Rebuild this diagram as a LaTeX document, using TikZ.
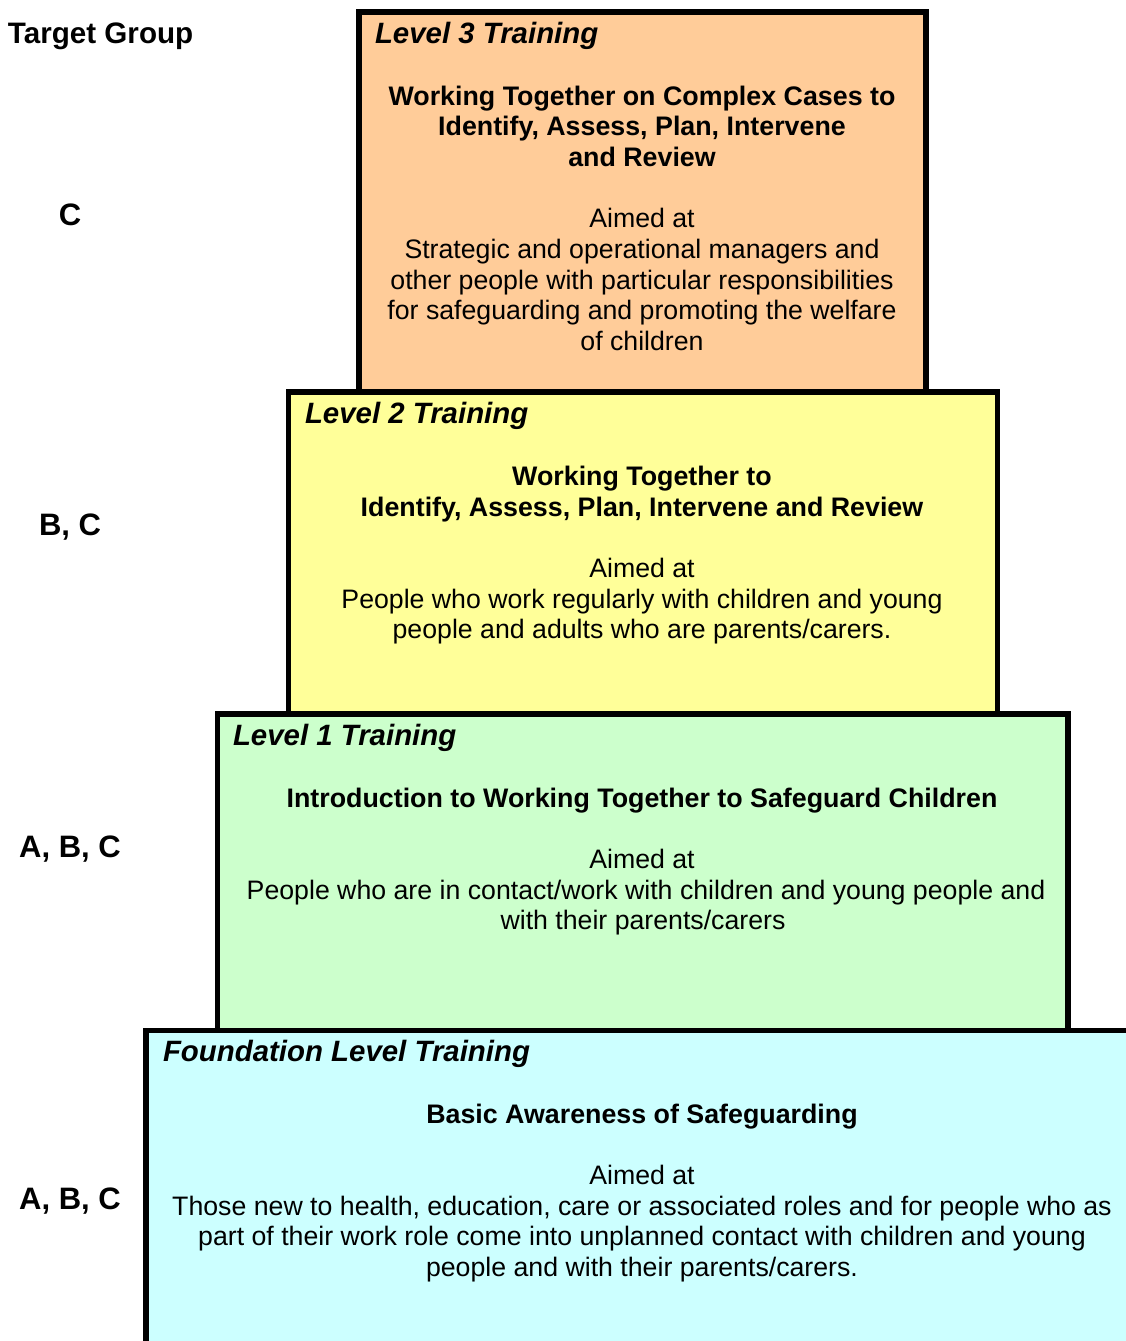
\documentclass[tikz,border=0pt]{standalone}
\usepackage{fontspec}
\setmainfont{Liberation Sans}
\definecolor{lthree}{HTML}{FFCC99}
\definecolor{ltwo}{HTML}{FFFF99}
\definecolor{lone}{HTML}{CCFFCC}
\definecolor{lfound}{HTML}{CCFFFF}
\begin{document}
\begin{tikzpicture}[x=1pt,y=-1pt,
  every node/.style={inner sep=0pt, outer sep=0pt, font=\fontsize{26.7}{30.5}\selectfont},
  box/.style={draw=black, line width=5.5pt, rectangle, anchor=north west},
  ttl/.style={anchor=base west, font=\fontsize{29.4}{33}\selectfont\bfseries\itshape},
  bld/.style={anchor=base, font=\fontsize{26.8}{30.5}\selectfont\bfseries},
  txt/.style={anchor=base},
  grp/.style={anchor=base, font=\fontsize{31}{34}\selectfont\bfseries}]
\useasboundingbox (0,0) rectangle (1126,1341);
\clip (0,0) rectangle (1126,1341);
% boxes
\node[box, fill=lthree, minimum width=567pt, minimum height=380pt] (L3) at (359,12) {};
\node[box, fill=ltwo, minimum width=709pt, minimum height=322pt] (L2) at (288.5,392) {};
\node[box, fill=lone, minimum width=850.5pt, minimum height=316.5pt] (L1) at (217.5,714) {};
\node[box, fill=lfound, minimum width=1100pt, minimum height=400pt] (F) at (146,1030.5) {};
% left labels
\node[anchor=base west, font=\fontsize{29.6}{33}\selectfont\bfseries] (tg) at (8,43) {Target Group};
\node[grp] (g3) at (70,225.5) {C};
\node[grp] (g2) at (70,535.5) {B, C};
\node[grp] (g1) at (70,857.5) {A, B, C};
\node[grp] (g0) at (70,1209.5) {A, B, C};
% level 3
\node[ttl] (t3) at (375,43) {Level 3 Training};
\node[bld] (b3a) at (642,105.5) {Working Together on Complex Cases to};
\node[bld] (b3b) at (642,135.5) {Identify, Assess, Plan, Intervene};
\node[bld] (b3c) at (642,166.5) {and Review};
\node[txt] (a3) at (642,227.5) {Aimed at};
\node[txt] (a3a) at (642,258.5) {Strategic and operational managers and};
\node[txt] (a3b) at (642,289.5) {other people with particular responsibilities};
\node[txt] (a3c) at (642,319.5) {for safeguarding and promoting the welfare};
\node[txt] (a3d) at (642,350.5) {of children};
% level 2
\node[ttl] (t2) at (305,423) {Level 2 Training};
\node[bld] (b2a) at (642,485.5) {Working Together to};
\node[bld] (b2b) at (642,516.5) {Identify, Assess, Plan, Intervene and Review};
\node[txt] (a2) at (642,577.5) {Aimed at};
\node[txt] (a2a) at (642,608.5) {People who work regularly with children and young};
\node[txt] (a2b) at (642,638.5) {people and adults who are parents/carers.};
% level 1
\node[ttl] (t1) at (233,745) {Level 1 Training};
\node[bld] (b1a) at (642,807.5) {Introduction to Working Together to Safeguard Children};
\node[txt] (a1) at (642,868.5) {Aimed at};
\node[txt] (a1a) at (646,899.5) {People who are in contact/work with children and young people and};
\node[txt] (a1b) at (643,929.5) {with their parents/carers};
% foundation
\node[ttl] (t0) at (163,1061) {Foundation Level Training};
\node[bld] (b0a) at (642,1123.5) {Basic Awareness of Safeguarding};
\node[txt] (a0) at (642,1184.5) {Aimed at};
\node[txt] (a0a) at (642,1215.5) {Those new to health, education, care or associated roles and for people who as};
\node[txt] (a0b) at (642,1245.5) {part of their work role come into unplanned contact with children and young};
\node[txt] (a0c) at (642,1276.5) {people and with their parents/carers.};
\end{tikzpicture}
\end{document}
